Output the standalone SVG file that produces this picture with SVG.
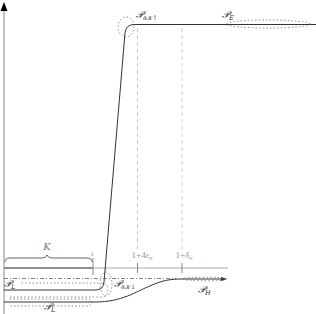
<svg xmlns="http://www.w3.org/2000/svg" width="316" height="314" viewBox="0 0 316 314">
<defs>
<style>
.axis{stroke:#888;stroke-width:1;fill:none}
.axl{stroke:#aaa;stroke-width:1;fill:none}
.dash{stroke:#ccc;stroke-width:1;stroke-dasharray:4,3;fill:none}
.tick{stroke:#888;stroke-width:1}
.curve{stroke:#333;stroke-width:1;fill:none}
.dot{stroke:#666;stroke-width:0.8;stroke-dasharray:0.6,3;stroke-linecap:round;fill:none}
.dd{stroke:#666;stroke-width:0.8;stroke-dasharray:4,2,1,2;fill:none}
.lbl{font-family:"DejaVu Serif","Liberation Serif",serif;font-style:italic;font-size:10px;fill:#333}
.glbl{font-family:"Liberation Serif",serif;font-size:9px;fill:#999}
.sub{font-size:6.5px}
</style>
<marker id="ah" markerWidth="6" markerHeight="6" refX="5" refY="3" orient="auto" markerUnits="userSpaceOnUse">
<path d="M0,0.8 L5,3 L0,5.2 Z" fill="#333"/>
</marker>
</defs>
<g id="axes">
<line class="axis" x1="4" y1="314" x2="4" y2="10"/>
<path d="M4,2 L7.5,11 L0.5,11 Z" fill="#000"/>
<line class="axl" x1="4" y1="268" x2="228" y2="268"/>
<line x1="4" y1="268" x2="93" y2="268" stroke="#777" stroke-width="1.6"/>
</g>
<g id="brace">
<path d="M5,262 Q5,258 10,258 L42,258 Q46,258 47,255 Q48,258 52,258 L87,258 Q92,258 92,262" stroke="#666" stroke-width="1" fill="none"/>
<text x="47" y="250" class="lbl" text-anchor="middle" style="fill:#777">K</text>
</g>
<g id="ticks">
<line class="tick" x1="93" y1="258" x2="93" y2="275"/>
<text x="92" y="256" class="glbl" text-anchor="middle" style="font-size:7px;fill:#888">1</text>
<line class="dash" x1="137.5" y1="28" x2="137.5" y2="250"/>
<line class="tick" x1="137.5" y1="263" x2="137.5" y2="273"/>
<text x="142" y="258" class="glbl" text-anchor="middle">1+4<tspan font-style="italic">ε</tspan><tspan class="sub" dy="1.5" font-style="italic">n</tspan></text>
<line class="dash" x1="182" y1="28" x2="182" y2="250"/>
<line class="tick" x1="182" y1="263" x2="182" y2="273"/>
<text x="184" y="258" class="glbl" text-anchor="middle">1+<tspan font-style="italic">δ</tspan><tspan class="sub" dy="1.5" font-style="italic">n</tspan></text>
</g>
<g id="connectors">
<path class="curve" d="M4,290 L95,290 Q103.5,290 104,282 L125,33 Q126,24.5 134,24.5 L316,24.5"/>
<path class="curve" d="M4,302 L95,302 C122,302 135,292 152,285 C163,280.5 170,279 182,279 L226,279" marker-end="url(#ah)"/>
<line class="dd" x1="4" y1="278.5" x2="176" y2="278.5"/>
</g>
<g id="PL1">
<path class="dot" d="M22,283 L100,283 Q108,283 108,290 Q108,297 100,297 L10,297"/>
<text x="4" y="287" class="lbl">𝒫<tspan class="sub" dy="2">L</tspan></text>
</g>
<g id="PL2">
<path class="dot" d="M10,299 L85,299 Q92,299 92,302.5 Q92,306 85,306 L10,306"/>
<text x="44" y="310" class="lbl">𝒫<tspan class="sub" dy="2">L</tspan></text>
</g>
<g id="PdKdown">
<ellipse class="dot" cx="106" cy="284" rx="6" ry="12"/>
<text x="114" y="287" class="lbl">𝒫<tspan class="sub" dy="2">∂𝒦↓</tspan></text>
</g>
<g id="PdKup">
<ellipse class="dot" cx="126" cy="27" rx="8" ry="10"/>
<text x="136" y="18" class="lbl">𝒫<tspan class="sub" dy="2">∂𝒦↑</tspan></text>
</g>
<g id="PE">
<ellipse class="dot" cx="268" cy="24" rx="42" ry="4"/>
<text x="222" y="18" class="lbl">𝒫<tspan class="sub" dy="2">E</tspan></text>
</g>
<g id="PH">
<ellipse class="dot" cx="205" cy="279" rx="22" ry="1.8"/>
<text x="198" y="293" class="lbl">𝒫<tspan class="sub" dy="2">H</tspan></text>
</g>
</svg>
